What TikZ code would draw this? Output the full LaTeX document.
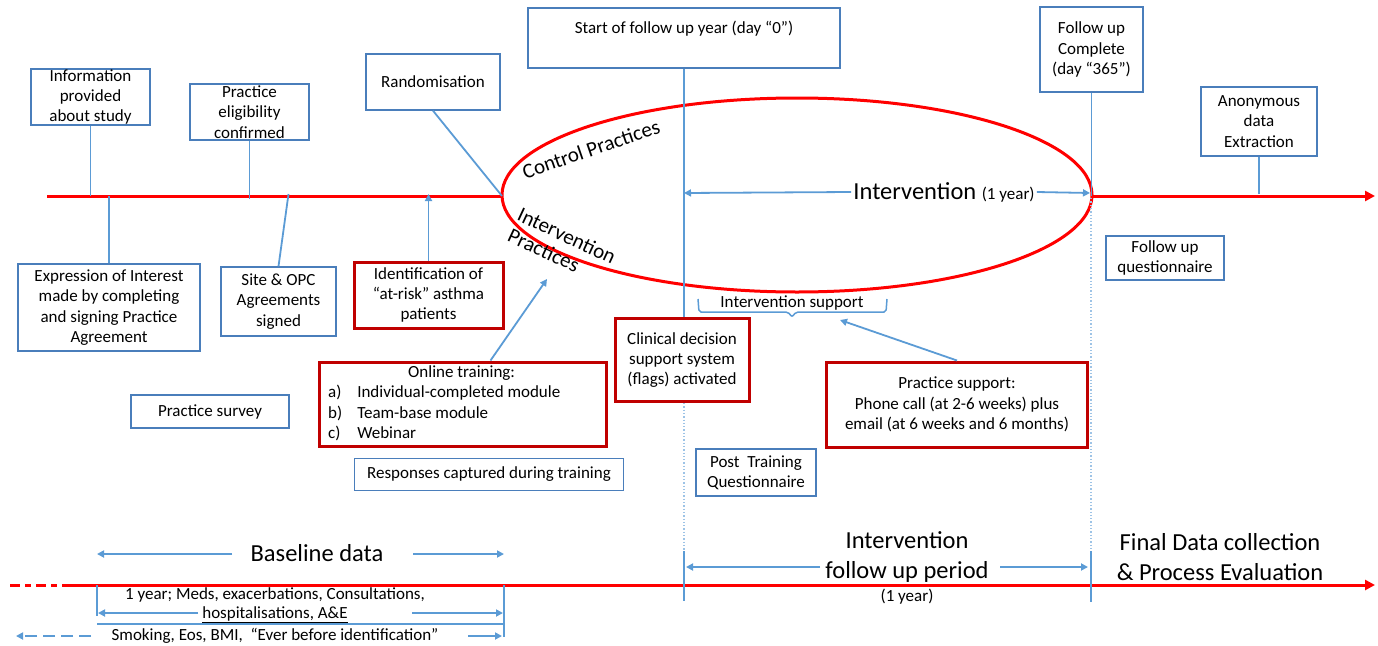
\documentclass[tikz,border=0pt]{standalone}
\usepackage{fontspec}
\setmainfont{Carlito}
\usetikzlibrary{arrows.meta,calc}
\definecolor{lineblue}{HTML}{5B9BD5}
\definecolor{boxblue}{HTML}{4A7EBB}
\definecolor{dred}{HTML}{C00000}
\definecolor{dotblue}{HTML}{9DC3E6}
\begin{document}
\begin{tikzpicture}[x=1pt,y=-1pt,
  every node/.style={font=\fontsize{17}{20.3}\selectfont, inner sep=0pt, align=center},
  bbox/.style={draw=boxblue, line width=1.4pt},
  rbox/.style={draw=dred, line width=3pt},
  conn/.style={draw=lineblue, line width=1.8pt},
  arr/.style={conn, -{Triangle[length=7pt,width=7pt]}},
  redline/.style={draw=red, line width=3pt},
  redarr/.style={redline, -{Triangle[length=10pt,width=10pt]}},
  big/.style={font=\fontsize{24.5}{30}\selectfont},
  dotl/.style={draw=dotblue, line width=1.3pt, dotted},
]
\useasboundingbox (0,0) rectangle (1378,645);

% ---------- top timeline ----------
\coordinate (L0) at (47,196);
\coordinate (eL) at (502,196);
\coordinate (eR) at (1092,196);
\coordinate (Lend) at (1375,196);
\draw[redline] (L0) -- (eL);
\draw[redarr] (eR) -- (Lend);
\draw[redline] (797,195) ellipse [x radius=295pt, y radius=97pt];

\node[rotate=19, font=\fontsize{21}{24}\selectfont] (ctrl) at (591,149) {Control Practices};
\node[rotate=-25, align=left, font=\fontsize{21}{23}\selectfont] (intp) at (562,246) {Intervention\\Practices};

% boxes above
\node[bbox, minimum width=119pt, minimum height=56pt] (info) at (90.5,97) {Information\\provided\\about study};
\node[bbox, minimum width=119pt, minimum height=56pt] (elig) at (249.5,112) {Practice\\eligibility\\confirmed};
\node[bbox, minimum width=134pt, minimum height=56pt] (rand) at (433,82) {Randomisation};
\node[bbox, minimum width=312pt, minimum height=60pt] (start) at (684,38) {};
\node (starttxt) at (684,29) {Start of follow up year (day “0”)};
\node[bbox, minimum width=103pt, minimum height=85pt] (fuc) at (1091.5,49.5) {Follow up\\Complete\\(day “365”)};
\node[bbox, minimum width=116pt, minimum height=69pt] (anon) at (1259,121.5) {Anonymous\\data\\Extraction};

% boxes below
\node[bbox, minimum width=182pt, minimum height=87pt] (expr) at (109,307.5) {Expression of Interest\\made by completing\\and signing Practice\\Agreement};
\node[bbox, minimum width=115pt, minimum height=69pt] (site) at (278.5,301.5) {Site \& OPC\\Agreements\\signed};
\node[rbox, minimum width=149pt, minimum height=66pt] (ident) at (428.5,295) {Identification of\\“at-risk” asthma\\patients};
\node[bbox, minimum width=118pt, minimum height=44pt] (fuq) at (1165,258) {Follow up\\questionnaire};
\node[rbox, minimum width=134pt, minimum height=83pt] (clin) at (682,360) {Clinical decision\\support system\\(flags) activated};
\node[bbox, minimum width=158pt, minimum height=33pt] (surv) at (210,411.5) {Practice survey};
\node[rbox, minimum width=287pt, minimum height=84pt] (online) at (462.5,404) {};
\node[anchor=west] (onlinetxt) at (328,404) {\begin{tabular}{@{}l@{\hspace{15pt}}l@{}}
\multicolumn{2}{@{}l@{}}{\hspace{80pt}Online training:}\\
a) & Individual-completed module\\
b) & Team-base module\\
c) & Webinar
\end{tabular}};
\node[bbox, minimum width=269pt, minimum height=32pt] (resp) at (489,474.5) {Responses captured during training};
\node[bbox, minimum width=120pt, minimum height=47pt] (ptq) at (756,472.5) {Post \ Training\\Questionnaire};
\node[rbox, minimum width=261pt, minimum height=85pt] (psup) at (957,404.5) {Practice support:\\Phone call (at 2-6 weeks) plus\\email (at 6 weeks and 6 months)};

% connectors top
\draw[conn] (info.south) -- (info.south |- L0);
\draw[conn] (elig.south) -- ([yshift=-3pt]elig.south |- L0);
\draw[conn] (rand.south) -- (eL);
\draw[conn] (expr.north) -- (expr.north |- L0);
\draw[conn] (site.north) -- ([xshift=10pt,yshift=2pt]site.north |- L0);
\draw[arr] (ident.north) -- ([yshift=2pt]ident.north |- L0);
\draw[conn] (start.south) -- (start.south |- clin.north);
\draw[conn] (fuc.south) -- (fuc.south |- L0);
\draw[conn] (anon.south) -- ([yshift=2pt]anon.south |- L0);
\coordinate (ipr) at (547,279);
\draw[arr] ([xshift=28pt]online.north) -- (ipr);

% intervention (1 year)
\node (intv) at (944,192) {\fontsize{24.5}{28}\selectfont Intervention \fontsize{17}{20}\selectfont(1 year)};
\coordinate (d0) at (684,193);
\coordinate (d365) at (1090,193);
\draw[arr] ([xshift=-2pt]intv.west) -- (d0);
\draw[arr] ([xshift=2pt]intv.east) -- (d365);

% intervention support brace
\node (isup) at (792,303) {Intervention support};
\coordinate (isb) at (792,317);
\coordinate (psa) at (840,320);
\draw[conn, line width=1.5pt, rounded corners=2pt] (698,299) -- (699,312) -- (788,312) -- (isb) -- (796,312) -- (886,312) -- (887,299);
\draw[arr] (psup.north) -- (psa);

% dotted verticals
\coordinate (t0top) at (684,551);
\coordinate (t0bot) at (684,601);
\coordinate (t1top) at (1091,551);
\coordinate (t1bot) at (1091,602);
\draw[dotl] (start.south |- clin.south) -- (t0top);
\draw[dotl] (1091,198) -- (t1top);

% ---------- bottom timeline ----------
\coordinate (B0) at (10,585);
\coordinate (B1) at (70,585);
\coordinate (Bend) at (1375,585);
\draw[redline, dash pattern=on 10pt off 5pt on 6pt off 5pt] (B0) -- (B1);
\draw[redarr] (B1) -- (Bend);

\draw[conn] (t0top) -- (t0bot);
\draw[conn] (t1top) -- (t1bot);

\node[big] (ifp) at (907,557) {Intervention\\follow up period};
\node (ifp1) at (907,597) {(1 year)};
\coordinate (ia) at (686,567);
\coordinate (ib) at (1088,567);
\draw[arr] (820,567) -- (ia);
\draw[arr] (1000,567) -- (ib);

\node[big] (fdc) at (1220,557) {Final Data collection\\\& Process Evaluation};

\node[big] (base) at (317,553) {Baseline data};
\coordinate (bl) at (97,554);
\coordinate (br) at (504,554);
\draw[arr] (232,554) -- (bl);
\draw[arr] (413,554) -- (br);

\coordinate (k0top) at (97,585);
\coordinate (k0bot) at (97,616);
\coordinate (k1top) at (504,585);
\coordinate (k1bot) at (504,637);
\draw[conn] (k0top) -- (k0bot);
\draw[conn] (k1top) -- (k1bot);

\node (yr1) at (275,595) {1 year; Meds, exacerbations, Consultations,};
\node (hosp) at (275,615) {\underline{hospitalisations, A\&E}};
\coordinate (ha) at (98,613);
\coordinate (hb) at (503,613);
\draw[arr] (198,613) -- (ha);
\draw[arr] (412,613) -- (hb);
\draw[conn] (97,624) -- (504,624);
\node (smk) at (275,636) {Smoking, Eos, BMI, \ “Ever before identification”};
\coordinate (sa) at (16,636);
\coordinate (sb) at (502,636);
\draw[arr, dash pattern=on 12pt off 6pt] (91,636) -- (sa);
\draw[arr] (468,636) -- (sb);
\end{tikzpicture}
\end{document}
